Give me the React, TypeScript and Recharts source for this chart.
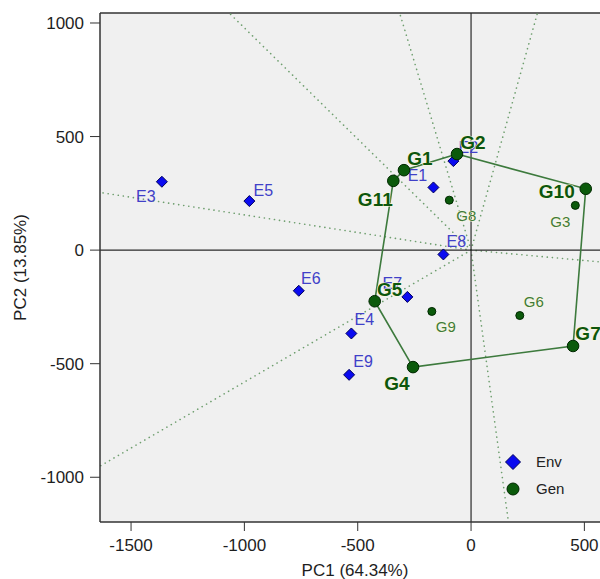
import { ScatterChart, Scatter, XAxis, YAxis, CartesianGrid, ReferenceLine, Legend } from "recharts";

// environments (blue diamonds)
const envNames = ["E1", "E2", "E3", "E4", "E5", "E6", "E7", "E8", "E9"];
const envPC1 = [-166, -78, -1364, -528, -978, -760, -281, -122, -538];
const envPC2 = [276, 392, 301, -367, 216, -179, -206, -19, -549];

// genotypes (green circles)
const genNames = ["G1", "G2", "G3", "G4", "G5", "G6", "G7", "G8", "G9", "G10", "G11"];
const genPC1 = [-296, -62, 460, -256, -425, 215, 450, -96, -173, 506, -343];
const genPC2 = [352, 423, 197, -515, -225, -288, -422, 220, -270, 270, 305];

// polygon vertices, in drawing order
const hullOrder = ["G2", "G10", "G7", "G4", "G5", "G11", "G1", "G2"];

// sector rays from the origin (end points)
const rayPC1 = [-1637, -1067, -315, 293, 613, 165, -1637];
const rayPC2 = [254, 1044, 1044, 1044, -56, -1197, -951];

const xTicks = [-1500, -1000, -500, 0, 500];
const yTicks = [-1000, -500, 0, 500, 1000];
const X_DOMAIN = [-1637, 613];
const Y_DOMAIN = [-1197, 1044];

// label offsets in px from the marker
const labelAt: Record<string, [number, number]> = {
  E1: [-16, -12], E2: [15, -14], E3: [-16, 15], E4: [13, -14], E5: [14, -11],
  E6: [12, -12], E7: [-15, -13], E8: [13, -13], E9: [14, -13],
  G1: [16, -12], G2: [16, -12], G3: [-15, 16], G4: [-16, 16], G5: [15, -12],
  G6: [14, -14], G7: [15, -12], G8: [17, 15], G9: [14, 15], G10: [-29, 3], G11: [-18, 19],
};

const envData = envNames.map((name, i) => ({ name, x: envPC1[i], y: envPC2[i] }));
const genData = genNames.map((name, i) => ({ name, x: genPC1[i], y: genPC2[i], vertex: hullOrder.includes(name) }));
const hullData = hullOrder.map((n) => genData.find((g) => g.name === n)!);

const FONT = "'Liberation Sans', Arial, sans-serif";

function EnvShape(props: any) {
  const { cx, cy, payload } = props;
  const [dx, dy] = labelAt[payload.name] || [12, -12];
  const r = 5.5;
  return (
    <g>
      <path
        d={`M${cx},${cy - r} L${cx + r},${cy} L${cx},${cy + r} L${cx - r},${cy} Z`}
        fill="#0a0af0"
        stroke="#00005a"
        strokeWidth={1}
      />
      <text
        x={cx + dx}
        y={cy + dy}
        textAnchor="middle"
        dominantBaseline="central"
        fontSize={16}
        fill="#4040c8"
        fontFamily={FONT}
      >
        {payload.name}
      </text>
    </g>
  );
}

function GenShape(props: any) {
  const { cx, cy, payload } = props;
  const [dx, dy] = labelAt[payload.name] || [12, -12];
  const big = payload.vertex;
  return (
    <g>
      <circle cx={cx} cy={cy} r={big ? 5.8 : 4} fill="#0b5a0b" stroke="#002800" strokeWidth={1} />
      <text
        x={cx + dx}
        y={cy + dy}
        textAnchor="middle"
        dominantBaseline="central"
        fontSize={big ? 19 : 15}
        fontWeight={big ? "bold" : "normal"}
        fill={big ? "#0d560d" : "#3f7a3a"}
        stroke="#fbf8dc"
        strokeWidth={1.2}
        paintOrder="stroke"
        fontFamily={FONT}
      >
        {payload.name}
      </text>
    </g>
  );
}

function LegendBox() {
  return (
    <div style={{ fontFamily: FONT, fontSize: 15, color: "#222" }}>
      <div style={{ display: "flex", alignItems: "center", height: 27 }}>
        <svg width={18} height={18}>
          <path d="M9,1.5 L16.5,9 L9,16.5 L1.5,9 Z" fill="#0a0af0" stroke="#00005a" />
        </svg>
        <span style={{ marginLeft: 14 }}>Env</span>
      </div>
      <div style={{ display: "flex", alignItems: "center", height: 27 }}>
        <svg width={18} height={18}>
          <circle cx={9} cy={9} r={6} fill="#0b5a0b" stroke="#002800" />
        </svg>
        <span style={{ marginLeft: 14 }}>Gen</span>
      </div>
    </div>
  );
}

export default function App() {
  return (
    <div
      style={{
        position: "fixed",
        left: 0,
        top: 0,
        width: 600,
        height: 579,
        overflow: "hidden",
        background: "#fff",
        fontFamily: FONT,
      }}
    >
      <ScatterChart width={630} height={579} margin={{ top: 13, right: 20, bottom: 0, left: 0 }}>
        <CartesianGrid fill="#f0f0f0" horizontal={false} vertical={false} />
        <XAxis
          type="number"
          dataKey="x"
          domain={X_DOMAIN}
          ticks={xTicks}
          allowDataOverflow
          height={57}
          tickSize={9}
          tickMargin={8}
          tick={{ fontSize: 17, fill: "#1e1e1e" }}
          axisLine={{ stroke: "#333", strokeWidth: 1.5 }}
          tickLine={{ stroke: "#333" }}
          label={{ value: "PC1 (64.34%)", position: "insideBottom", offset: 3, fontSize: 17, fill: "#1e1e1e" }}
        />
        <YAxis
          type="number"
          dataKey="y"
          domain={Y_DOMAIN}
          ticks={yTicks}
          allowDataOverflow
          width={100}
          tickSize={10}
          tickMargin={6}
          tick={{ fontSize: 17, fill: "#1e1e1e" }}
          axisLine={{ stroke: "#333", strokeWidth: 1.5 }}
          tickLine={{ stroke: "#333" }}
          label={{ value: "PC2 (13.85%)", angle: -90, position: "center", dx: -30, fontSize: 17, fill: "#1e1e1e" }}
        />
        <ReferenceLine y={Y_DOMAIN[1]} stroke="#333" strokeWidth={1.5} />
        {rayPC1.map((x, i) => (
          <ReferenceLine
            key={i}
            segment={[{ x: 0, y: 0 }, { x, y: rayPC2[i] }]}
            stroke="#6e9e6e"
            strokeWidth={1.6}
            strokeDasharray="0.1 5"
            strokeLinecap="round"
            ifOverflow="visible"
          />
        ))}
        <ReferenceLine x={0} stroke="#2a2a2a" strokeWidth={1.2} />
        <ReferenceLine y={0} stroke="#2a2a2a" strokeWidth={1.2} />
        <Scatter
          name="hull"
          data={hullData}
          line={{ stroke: "#3d7a3d", strokeWidth: 1.6 }}
          shape={() => <g />}
          isAnimationActive={false}
          legendType="none"
        />
        <Scatter name="Env" data={envData} shape={EnvShape} isAnimationActive={false} />
        <Scatter name="Gen" data={genData} shape={GenShape} isAnimationActive={false} />
        <Legend
          layout="horizontal"
          verticalAlign="middle"
          align="center"
          content={() => <LegendBox />}
          wrapperStyle={{ left: 504, top: 448, width: 80, height: 56 }}
        />
      </ScatterChart>
    </div>
  );
}
